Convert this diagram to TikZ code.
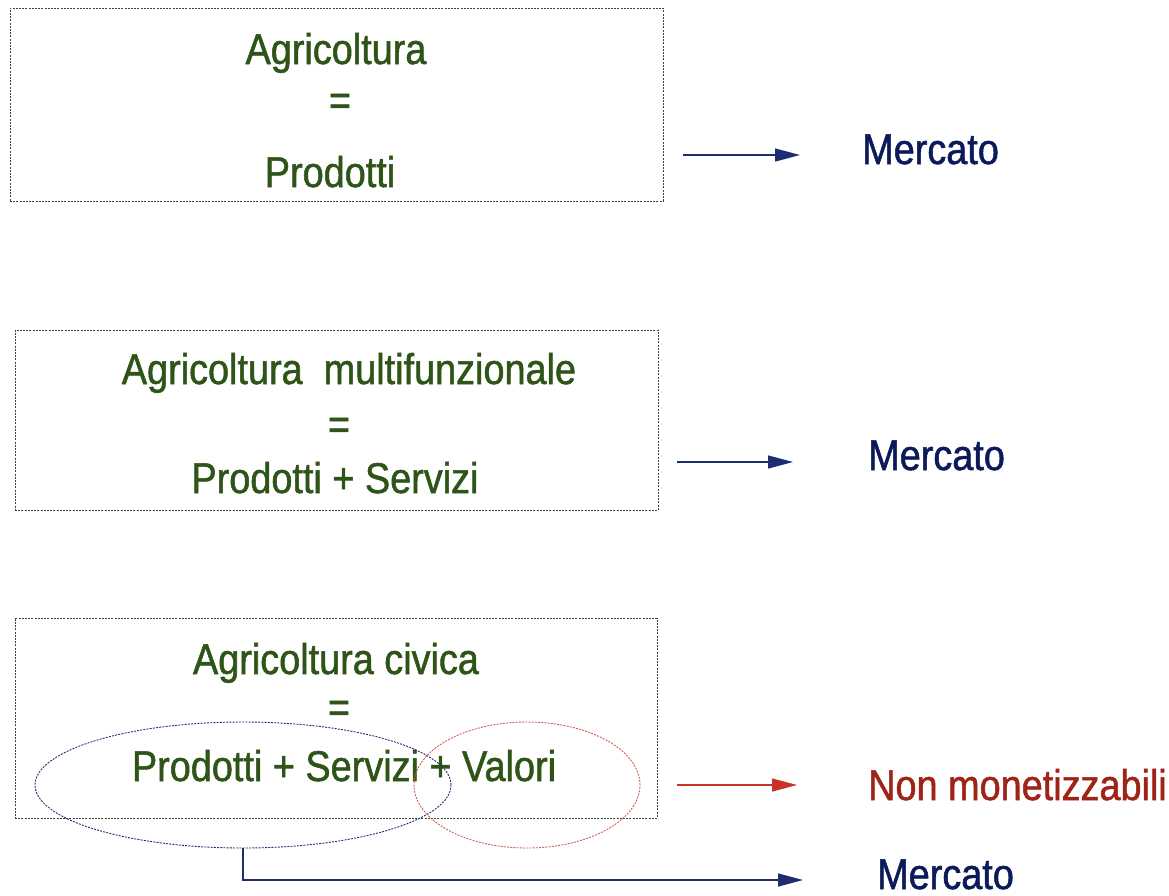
\documentclass[tikz,border=0pt]{standalone}
\usepackage{fontspec}
\setmainfont{Liberation Sans}
\newfontfamily\slidefont[FakeStretch = 0.88, FakeBold = 1.2]{Liberation Sans}
\usetikzlibrary{arrows.meta,shapes.geometric}
\definecolor{agrigreen}{HTML}{2E5418}
\definecolor{navytext}{HTML}{0C1A5A}
\definecolor{redtext}{HTML}{9E2418}
\definecolor{navyline}{HTML}{1E2C72}
\definecolor{redline}{HTML}{C8322A}
\tikzset{
  panel/.style = {draw = black!75, line width = 0.8pt, dash pattern = on 2pt off 1.2pt, inner sep = 0pt},
  label/.style = {text = agrigreen, font = \slidefont\fontsize{43}{48}\selectfont, inner sep = 0pt, anchor = base},
  target/.style = {font = \slidefont\fontsize{43}{48}\selectfont, inner sep = 0pt, anchor = base west},
  arr/.style = {line width = 1.3pt, -{Triangle[length = 25pt, width = 13pt]}},
  oval/.style = {ellipse, line width = 0.9pt, dash pattern = on 2pt off 1.2pt, inner sep = 0pt}
}
\begin{document}
\begin{tikzpicture}[x = 1pt, y = -1pt]
    \useasboundingbox (0,0) rectangle (1169,895);
    % first block
    \node[panel, minimum width = 653pt, minimum height = 193pt] (box1) at (336.5,104.5) {};
    \node[label] (t1a) at (336,64) {Agricoltura};
    \node[label] (t1b) at (340,115) {=};
    \node[label] (t1c) at (330,187) {Prodotti};
    \node[target, text = navytext] (m1) at (862,164) {Mercato};
    \draw[arr, navyline, shorten <= 20pt, shorten >= 62pt] (box1.east |- 0,155) -- (m1.west |- 0,155);
    % second block
    \node[panel, minimum width = 643pt, minimum height = 180pt] (box2) at (336.5,420) {};
    \node[label] (t2a) at (349,384) {Agricoltura\ \ multifunzionale};
    \node[label] (t2b) at (339,439) {=};
    \node[label] (t2c) at (335,493) {Prodotti + Servizi};
    \node[target, text = navytext] (m2) at (868,470) {Mercato};
    \draw[arr, navyline, shorten <= 19pt, shorten >= 75pt] (box2.east |- 0,462) -- (m2.west |- 0,462);
    % third block
    \node[panel, minimum width = 642pt, minimum height = 200pt] (box3) at (336,718) {};
    \node[label] (t3a) at (336,674) {Agricoltura civica};
    \node[label] (t3b) at (339,722) {=};
    \node[label] (t3c) at (344,781) {Prodotti + Servizi + Valori};
    \node[oval, draw = navyline, minimum width = 416pt, minimum height = 126pt] (ov1) at (243,785) {};
    \node[oval, draw = redline!80, minimum width = 226pt, minimum height = 126pt] (ov2) at (527,785) {};
    \node[target, text = redtext] (nm) at (868,800) {Non monetizzabili};
    \node[target, text = navytext] (m3) at (877,889) {Mercato};
    \draw[arr, redline, shorten <= 20pt, shorten >= 71pt] (box3.east |- 0,785) -- (nm.west |- 0,785);
    \draw[arr, navyline, shorten >= 74pt] (ov1.south) |- (m3.west |- 0,880);
\end{tikzpicture}
\end{document}
